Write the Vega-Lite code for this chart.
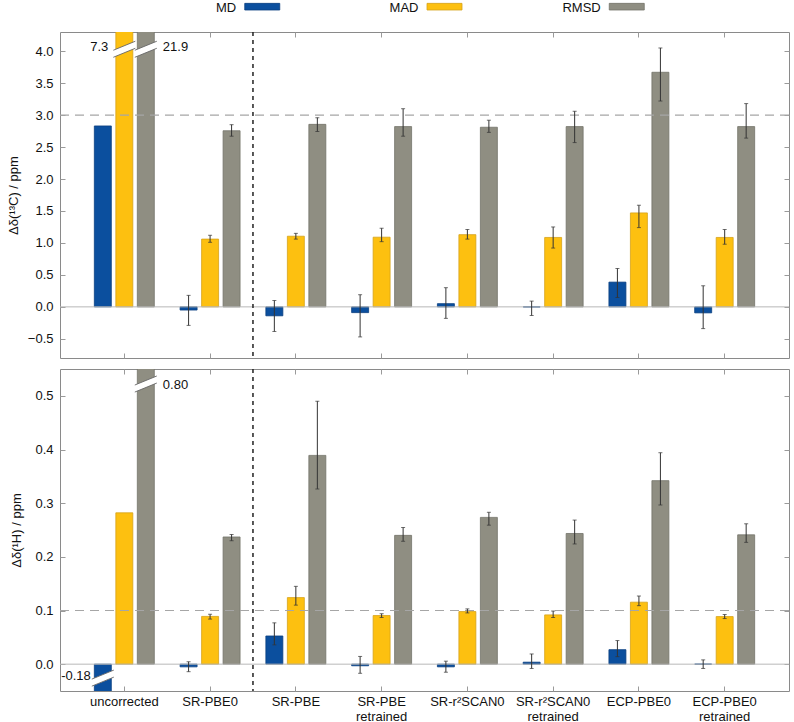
{
  "$schema": "https://vega.github.io/schema/vega-lite/v6.json",
  "background": "white",
  "padding": {"left": 6, "top": 1, "right": 2, "bottom": 0},
  "config": {
    "font": "Liberation Sans",
    "view": {"stroke": "#8a8a8a", "strokeWidth": 1},
    "axis": {
      "labelFont": "Liberation Sans", "labelFontSize": 13, "labelColor": "#111",
      "titleFont": "Liberation Sans", "titleFontSize": 13, "titleFontWeight": "normal", "titleColor": "#111",
      "domain": false, "grid": false, "tickColor": "#9a9a9a", "tickSize": -5, "labelPadding": 12
    }
  },
  "datasets": {
    "legend": [{"series": "MD", "ly": 4.683, "sy": 4.696}, {"series": "MAD", "ly": 4.683, "sy": 4.696}, {"series": "RMSD", "ly": 4.683, "sy": 4.696}],
    "one": [{"k": 1}],
    "c13": [
      {"method": "uncorrected", "series": "MD", "value": 2.83, "lo": null, "hi": null},
      {"method": "uncorrected", "series": "MAD", "value": 7.3, "lo": null, "hi": null},
      {"method": "uncorrected", "series": "RMSD", "value": 21.9, "lo": null, "hi": null},
      {"method": "SR-PBE0", "series": "MD", "value": -0.05, "lo": -0.29, "hi": 0.18},
      {"method": "SR-PBE0", "series": "MAD", "value": 1.06, "lo": 1.01, "hi": 1.12},
      {"method": "SR-PBE0", "series": "RMSD", "value": 2.755, "lo": 2.67, "hi": 2.85},
      {"method": "SR-PBE", "series": "MD", "value": -0.14, "lo": -0.385, "hi": 0.10},
      {"method": "SR-PBE", "series": "MAD", "value": 1.105, "lo": 1.06, "hi": 1.15},
      {"method": "SR-PBE", "series": "RMSD", "value": 2.855, "lo": 2.745, "hi": 2.96},
      {"method": "SR-PBE retrained", "series": "MD", "value": -0.09, "lo": -0.47, "hi": 0.19},
      {"method": "SR-PBE retrained", "series": "MAD", "value": 1.09, "lo": 1.02, "hi": 1.23},
      {"method": "SR-PBE retrained", "series": "RMSD", "value": 2.82, "lo": 2.67, "hi": 3.10},
      {"method": "SR-r²SCAN0", "series": "MD", "value": 0.05, "lo": -0.18, "hi": 0.30},
      {"method": "SR-r²SCAN0", "series": "MAD", "value": 1.13, "lo": 1.06, "hi": 1.21},
      {"method": "SR-r²SCAN0", "series": "RMSD", "value": 2.81, "lo": 2.73, "hi": 2.92},
      {"method": "SR-r²SCAN0 retrained", "series": "MD", "value": 0.0, "lo": -0.135, "hi": 0.09},
      {"method": "SR-r²SCAN0 retrained", "series": "MAD", "value": 1.086, "lo": 0.92, "hi": 1.25},
      {"method": "SR-r²SCAN0 retrained", "series": "RMSD", "value": 2.82, "lo": 2.57, "hi": 3.06},
      {"method": "ECP-PBE0", "series": "MD", "value": 0.387, "lo": 0.147, "hi": 0.60},
      {"method": "ECP-PBE0", "series": "MAD", "value": 1.47, "lo": 1.24, "hi": 1.59},
      {"method": "ECP-PBE0", "series": "RMSD", "value": 3.67, "lo": 3.22, "hi": 4.05},
      {"method": "ECP-PBE0 retrained", "series": "MD", "value": -0.094, "lo": -0.34, "hi": 0.33},
      {"method": "ECP-PBE0 retrained", "series": "MAD", "value": 1.086, "lo": 0.98, "hi": 1.21},
      {"method": "ECP-PBE0 retrained", "series": "RMSD", "value": 2.82, "lo": 2.64, "hi": 3.18}
    ],
    "h1": [
      {"method": "uncorrected", "series": "MD", "value": -0.18, "lo": null, "hi": null},
      {"method": "uncorrected", "series": "MAD", "value": 0.282, "lo": null, "hi": null},
      {"method": "uncorrected", "series": "RMSD", "value": 0.80, "lo": null, "hi": null},
      {"method": "SR-PBE0", "series": "MD", "value": -0.005, "lo": -0.014, "hi": 0.0045},
      {"method": "SR-PBE0", "series": "MAD", "value": 0.089, "lo": 0.084, "hi": 0.093},
      {"method": "SR-PBE0", "series": "RMSD", "value": 0.237, "lo": 0.230, "hi": 0.2416},
      {"method": "SR-PBE", "series": "MD", "value": 0.0525, "lo": 0.036, "hi": 0.077},
      {"method": "SR-PBE", "series": "MAD", "value": 0.124, "lo": 0.110, "hi": 0.145},
      {"method": "SR-PBE", "series": "RMSD", "value": 0.389, "lo": 0.3265, "hi": 0.49},
      {"method": "SR-PBE retrained", "series": "MD", "value": -0.003, "lo": -0.017, "hi": 0.0144},
      {"method": "SR-PBE retrained", "series": "MAD", "value": 0.0906, "lo": 0.087, "hi": 0.094},
      {"method": "SR-PBE retrained", "series": "RMSD", "value": 0.240, "lo": 0.229, "hi": 0.2547},
      {"method": "SR-r²SCAN0", "series": "MD", "value": -0.005, "lo": -0.015, "hi": 0.0056},
      {"method": "SR-r²SCAN0", "series": "MAD", "value": 0.098, "lo": 0.0955, "hi": 0.103},
      {"method": "SR-r²SCAN0", "series": "RMSD", "value": 0.2735, "lo": 0.259, "hi": 0.283},
      {"method": "SR-r²SCAN0 retrained", "series": "MD", "value": 0.0037, "lo": -0.008, "hi": 0.019},
      {"method": "SR-r²SCAN0 retrained", "series": "MAD", "value": 0.0918, "lo": 0.087, "hi": 0.099},
      {"method": "SR-r²SCAN0 retrained", "series": "RMSD", "value": 0.2435, "lo": 0.224, "hi": 0.2685},
      {"method": "ECP-PBE0", "series": "MD", "value": 0.027, "lo": 0.014, "hi": 0.044},
      {"method": "ECP-PBE0", "series": "MAD", "value": 0.1155, "lo": 0.109, "hi": 0.127},
      {"method": "ECP-PBE0", "series": "RMSD", "value": 0.342, "lo": 0.2966, "hi": 0.394},
      {"method": "ECP-PBE0 retrained", "series": "MD", "value": 0.0, "lo": -0.008, "hi": 0.008},
      {"method": "ECP-PBE0 retrained", "series": "MAD", "value": 0.0887, "lo": 0.085, "hi": 0.0925},
      {"method": "ECP-PBE0 retrained", "series": "RMSD", "value": 0.241, "lo": 0.227, "hi": 0.2616}
    ],
    "c13breaks": [
      {"method": "uncorrected", "series": "MAD", "y": 4.03, "ly": 4.06, "label": "7.3"},
      {"method": "uncorrected", "series": "RMSD", "y": 4.03, "ly": 4.06, "label": "21.9"}
    ],
    "h1breaks": [
      {"method": "uncorrected", "series": "RMSD", "y": 0.522, "ly": 0.52, "label": "0.80"},
      {"method": "uncorrected", "series": "MD", "y": -0.026, "ly": -0.022, "label": "-0.18"}
    ]
  },
  "spacing": 7,
  "vconcat": [
    {
      "width": 729, "height": 326,
      "resolve": {"scale": {"x": "independent"}, "axis": {"x": "independent", "y": "independent"}},
      "layer": [
        {
          "resolve": {"axis": {"x": "independent", "y": "independent"}},
          "layer": [
            {
              "data": {"name": "c13"},
              "mark": {"type": "bar", "clip": true, "strokeWidth": 0.8},
              "encoding": {
                "x": {"field": "method", "type": "nominal", "sort": null,
                      "scale": {"domain": ["uncorrected", "SR-PBE0", "SR-PBE", "SR-PBE retrained", "SR-r²SCAN0", "SR-r²SCAN0 retrained", "ECP-PBE0", "ECP-PBE0 retrained"], "paddingInner": 0, "paddingOuter": 0.25},
                      "axis": {"labels": false, "title": null}},
                "xOffset": {"field": "series", "type": "nominal", "scale": {"domain": ["MD", "MAD", "RMSD"], "paddingInner": 0.21, "paddingOuter": 0.6}},
                "y": {"field": "value", "type": "quantitative", "scale": {"domain": [-0.8, 4.3], "nice": false, "zero": false},
                      "axis": {"values": [-0.5, 0, 0.5, 1, 1.5, 2, 2.5, 3, 3.5, 4], "format": ".1f", "title": "Δδ(¹³C) / ppm", "titlePadding": 7}},
                "fill": {"field": "series", "type": "nominal", "scale": {"domain": ["MD", "MAD", "RMSD"], "range": ["#0b4f9e", "#fdc010", "#8f8e82"]}, "legend": null},
                "stroke": {"field": "series", "type": "nominal", "scale": {"domain": ["MD", "MAD", "RMSD"], "range": ["#0a3f80", "#d6a21a", "#74736a"]}, "legend": null}
              }
            },
            {
              "data": {"name": "one"},
              "mark": {"type": "rule", "color": "#b8b8b8", "strokeWidth": 1},
              "encoding": {"y": {"datum": 0, "type": "quantitative", "axis": null}}
            },
            {
              "data": {"name": "one"},
              "mark": {"type": "rule", "color": "#a6a6a6", "strokeWidth": 1.2, "strokeDash": [9, 6]},
              "encoding": {"y": {"datum": 3, "type": "quantitative", "axis": {"orient": "right", "labels": false, "title": null, "values": [-0.5, 0, 0.5, 1, 1.5, 2, 2.5, 3, 3.5, 4]}}}
            },
            {
              "data": {"name": "one"},
              "mark": {"type": "rule", "color": "#222", "strokeWidth": 1.5, "strokeDash": [4, 4]},
              "encoding": {"x": {"datum": "SR-PBE", "type": "nominal", "bandPosition": 0, "axis": {"orient": "top", "labels": false, "title": null}}}
            },
            {
              "data": {"name": "c13"},
              "transform": [{"filter": "isValid(datum.lo)"}],
              "mark": {"type": "rule", "color": "#333", "strokeWidth": 1},
              "encoding": {
                "x": {"field": "method", "type": "nominal", "axis": null},
                "xOffset": {"field": "series", "type": "nominal"},
                "y": {"field": "lo", "type": "quantitative", "axis": null},
                "y2": {"field": "hi"}
              }
            },
            {
              "data": {"name": "c13"},
              "transform": [{"filter": "isValid(datum.lo)"}],
              "mark": {"type": "tick", "color": "#333", "thickness": 1, "size": 4},
              "encoding": {
                "x": {"field": "method", "type": "nominal", "axis": null},
                "xOffset": {"field": "series", "type": "nominal"},
                "y": {"field": "lo", "type": "quantitative", "axis": null}
              }
            },
            {
              "data": {"name": "c13"},
              "transform": [{"filter": "isValid(datum.hi)"}],
              "mark": {"type": "tick", "color": "#333", "thickness": 1, "size": 4},
              "encoding": {
                "x": {"field": "method", "type": "nominal", "axis": null},
                "xOffset": {"field": "series", "type": "nominal"},
                "y": {"field": "hi", "type": "quantitative", "axis": null}
              }
            },
            {
              "data": {"name": "c13breaks"},
              "mark": {"type": "point", "shape": "M-1,0.73L1,-0.09L1,-0.73L-1,0.09Z", "filled": true, "size": 484, "fill": "white", "opacity": 1, "strokeWidth": 0},
              "encoding": {
                "x": {"field": "method", "type": "nominal", "axis": null},
                "xOffset": {"field": "series", "type": "nominal"},
                "y": {"field": "y", "type": "quantitative", "axis": null}
              }
            },
            {
              "data": {"name": "c13breaks"},
              "mark": {"type": "point", "shape": "M-1,0.73L1,-0.09M1,-0.73L-1,0.09", "filled": false, "size": 484, "stroke": "#666", "opacity": 1, "strokeWidth": 0.9},
              "encoding": {
                "x": {"field": "method", "type": "nominal", "axis": null},
                "xOffset": {"field": "series", "type": "nominal"},
                "y": {"field": "y", "type": "quantitative", "axis": null}
              }
            },
            {
              "data": {"name": "c13breaks"},
              "transform": [{"filter": "datum.series !== 'RMSD'"}],
              "mark": {"type": "text", "align": "right", "baseline": "middle", "fontSize": 13, "dx": -16, "color": "#111"},
              "encoding": {
                "x": {"field": "method", "type": "nominal", "axis": null},
                "xOffset": {"field": "series", "type": "nominal"},
                "y": {"field": "ly", "type": "quantitative", "axis": null},
                "text": {"field": "label"}
              }
            },
            {
              "data": {"name": "c13breaks"},
              "transform": [{"filter": "datum.series === 'RMSD'"}],
              "mark": {"type": "text", "align": "left", "baseline": "middle", "fontSize": 13, "dx": 17, "color": "#111"},
              "encoding": {
                "x": {"field": "method", "type": "nominal", "axis": null},
                "xOffset": {"field": "series", "type": "nominal"},
                "y": {"field": "ly", "type": "quantitative", "axis": null},
                "text": {"field": "label"}
              }
            }
          ]
        },
        {
          "data": {"name": "legend"},
          "encoding": {
            "x": {"field": "series", "type": "nominal", "scale": {"type": "point", "domain": ["MD", "MAD", "RMSD"], "padding": 1.65}, "axis": null}
          },
          "layer": [
            {"mark": {"type": "text", "align": "right", "baseline": "middle", "fontSize": 13, "dx": -6, "color": "#111", "clip": false},
             "encoding": {"text": {"field": "series"}, "y": {"field": "ly", "type": "quantitative", "axis": null}}},
            {"mark": {"type": "point", "shape": "M-1,-0.19H1V0.19H-1Z", "filled": true, "size": 1225, "xOffset": 20, "opacity": 1, "strokeWidth": 0.8, "clip": false},
             "encoding": {
               "y": {"field": "sy", "type": "quantitative", "axis": null},
               "fill": {"field": "series", "type": "nominal", "scale": {"domain": ["MD", "MAD", "RMSD"], "range": ["#0b4f9e", "#fdc010", "#8f8e82"]}, "legend": null},
               "stroke": {"field": "series", "type": "nominal", "scale": {"domain": ["MD", "MAD", "RMSD"], "range": ["#0a3f80", "#d6a21a", "#74736a"]}, "legend": null}
             }}
          ]
        }
      ]
    },
    {
      "width": 729, "height": 322,
      "resolve": {"axis": {"x": "independent", "y": "independent"}},
      "layer": [
        {
          "data": {"name": "h1"},
          "mark": {"type": "bar", "clip": true, "strokeWidth": 0.8},
          "encoding": {
            "x": {"field": "method", "type": "nominal", "sort": null,
                  "scale": {"domain": ["uncorrected", "SR-PBE0", "SR-PBE", "SR-PBE retrained", "SR-r²SCAN0", "SR-r²SCAN0 retrained", "ECP-PBE0", "ECP-PBE0 retrained"], "paddingInner": 0, "paddingOuter": 0.25},
                  "axis": {"title": null, "labelAngle": 0, "labelExpr": "split(datum.label, ' ')", "labelLineHeight": 15, "labelPadding": 9, "labelBaseline": "top"}},
            "xOffset": {"field": "series", "type": "nominal", "scale": {"domain": ["MD", "MAD", "RMSD"], "paddingInner": 0.21, "paddingOuter": 0.6}},
            "y": {"field": "value", "type": "quantitative", "scale": {"domain": [-0.05, 0.55], "nice": false, "zero": false},
                  "axis": {"values": [0, 0.1, 0.2, 0.3, 0.4, 0.5], "format": ".1f", "title": "Δδ(¹H) / ppm", "titlePadding": 11.5}},
            "fill": {"field": "series", "type": "nominal", "scale": {"domain": ["MD", "MAD", "RMSD"], "range": ["#0b4f9e", "#fdc010", "#8f8e82"]}, "legend": null},
            "stroke": {"field": "series", "type": "nominal", "scale": {"domain": ["MD", "MAD", "RMSD"], "range": ["#0a3f80", "#d6a21a", "#74736a"]}, "legend": null}
          }
        },
        {
          "data": {"name": "one"},
          "mark": {"type": "rule", "color": "#b8b8b8", "strokeWidth": 1},
          "encoding": {"y": {"datum": 0, "type": "quantitative", "axis": null}}
        },
        {
          "data": {"name": "one"},
          "mark": {"type": "rule", "color": "#a6a6a6", "strokeWidth": 1.2, "strokeDash": [9, 6]},
          "encoding": {"y": {"datum": 0.1, "type": "quantitative", "axis": {"orient": "right", "labels": false, "title": null, "values": [0, 0.1, 0.2, 0.3, 0.4, 0.5]}}}
        },
        {
          "data": {"name": "one"},
          "mark": {"type": "rule", "color": "#222", "strokeWidth": 1.5, "strokeDash": [4, 4]},
          "encoding": {"x": {"datum": "SR-PBE", "type": "nominal", "bandPosition": 0, "axis": {"orient": "top", "labels": false, "title": null}}}
        },
        {
          "data": {"name": "h1"},
          "transform": [{"filter": "isValid(datum.lo)"}],
          "mark": {"type": "rule", "color": "#333", "strokeWidth": 1},
          "encoding": {
            "x": {"field": "method", "type": "nominal", "axis": null},
            "xOffset": {"field": "series", "type": "nominal"},
            "y": {"field": "lo", "type": "quantitative", "axis": null},
            "y2": {"field": "hi"}
          }
        },
        {
          "data": {"name": "h1"},
          "transform": [{"filter": "isValid(datum.lo)"}],
          "mark": {"type": "tick", "color": "#333", "thickness": 1, "size": 4},
          "encoding": {
            "x": {"field": "method", "type": "nominal", "axis": null},
            "xOffset": {"field": "series", "type": "nominal"},
            "y": {"field": "lo", "type": "quantitative", "axis": null}
          }
        },
        {
          "data": {"name": "h1"},
          "transform": [{"filter": "isValid(datum.hi)"}],
          "mark": {"type": "tick", "color": "#333", "thickness": 1, "size": 4},
          "encoding": {
            "x": {"field": "method", "type": "nominal", "axis": null},
            "xOffset": {"field": "series", "type": "nominal"},
            "y": {"field": "hi", "type": "quantitative", "axis": null}
          }
        },
        {
          "data": {"name": "h1breaks"},
          "mark": {"type": "point", "shape": "M-1,0.73L1,-0.09L1,-0.73L-1,0.09Z", "filled": true, "size": 484, "fill": "white", "opacity": 1, "strokeWidth": 0},
          "encoding": {
            "x": {"field": "method", "type": "nominal", "axis": null},
            "xOffset": {"field": "series", "type": "nominal"},
            "y": {"field": "y", "type": "quantitative", "axis": null}
          }
        },
        {
          "data": {"name": "h1breaks"},
          "mark": {"type": "point", "shape": "M-1,0.73L1,-0.09M1,-0.73L-1,0.09", "filled": false, "size": 484, "stroke": "#666", "opacity": 1, "strokeWidth": 0.9},
          "encoding": {
            "x": {"field": "method", "type": "nominal", "axis": null},
            "xOffset": {"field": "series", "type": "nominal"},
            "y": {"field": "y", "type": "quantitative", "axis": null}
          }
        },
        {
          "data": {"name": "h1breaks"},
          "transform": [{"filter": "datum.series !== 'RMSD'"}],
          "mark": {"type": "text", "align": "right", "baseline": "middle", "fontSize": 13, "dx": -12, "color": "#111"},
          "encoding": {
            "x": {"field": "method", "type": "nominal", "axis": null},
            "xOffset": {"field": "series", "type": "nominal"},
            "y": {"field": "ly", "type": "quantitative", "axis": null},
            "text": {"field": "label"}
          }
        },
        {
          "data": {"name": "h1breaks"},
          "transform": [{"filter": "datum.series === 'RMSD'"}],
          "mark": {"type": "text", "align": "left", "baseline": "middle", "fontSize": 13, "dx": 17, "color": "#111"},
          "encoding": {
            "x": {"field": "method", "type": "nominal", "axis": null},
            "xOffset": {"field": "series", "type": "nominal"},
            "y": {"field": "ly", "type": "quantitative", "axis": null},
            "text": {"field": "label"}
          }
        }
      ]
    }
  ]
}
